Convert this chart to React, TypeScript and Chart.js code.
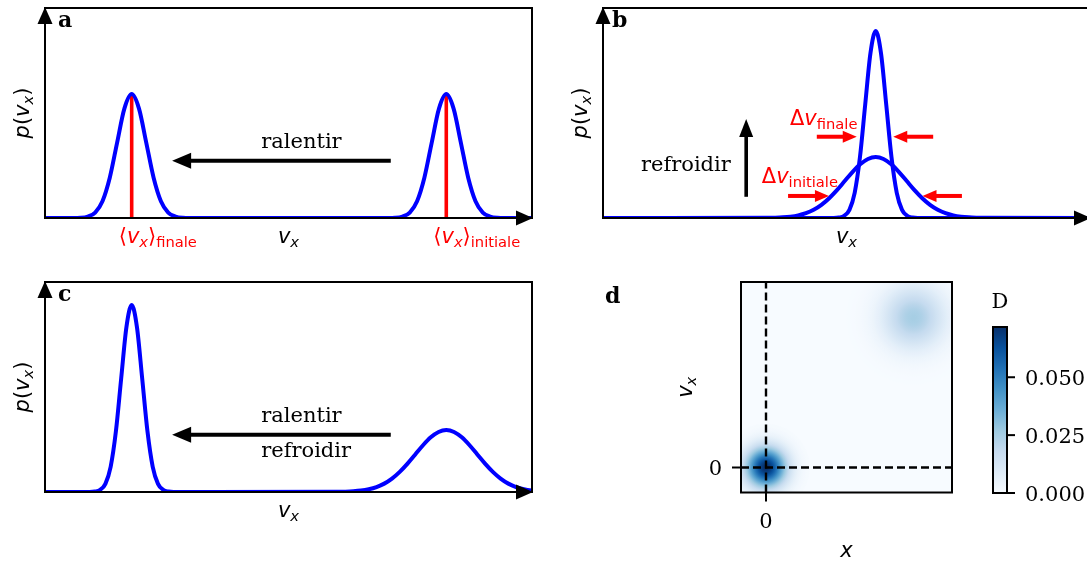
import React, { useEffect, useRef } from 'react';
import { Chart, registerables } from 'chart.js';
Chart.register(...registerables);

// ---------------- data ----------------
// panel a : two equal gaussians + red mean markers
const A_CURVE_X = [0, 5.8, 7.3, 8.8, 10.3, 11.8, 13.3, 14.8, 16.3, 17.8, 19.3, 20.8, 22.3, 23.8, 25.3, 26.8, 28.3, 29.8,
  70.4, 71.9, 73.4, 74.9, 76.4, 77.9, 79.4, 80.9, 82.4, 83.9, 85.4, 86.9, 88.4, 89.9, 91.4, 92.9, 94.4, 100];
const A_CURVE_Y = [0, 0, 0.001, 0.007, 0.026, 0.080, 0.192, 0.358, 0.521, 0.59, 0.521, 0.358, 0.192, 0.080, 0.026, 0.007, 0.001, 0,
  0, 0.001, 0.007, 0.026, 0.080, 0.192, 0.358, 0.521, 0.59, 0.521, 0.358, 0.192, 0.080, 0.026, 0.007, 0.001, 0, 0];
const A_MEANS = [17.8, 82.4];
const A_MEAN_HEIGHT = 0.59;
const A_MEAN_LABELS = ['finale', 'initiale'];
const A_TEXT = [44.4, 0.333];
const A_ARROW = [71.0, 26.1, 0.273];

// panel b : narrow and wide gaussian at the same centre
const B_NARROW_X = [0, 47.36, 48.44, 49.52, 50.6, 51.68, 52.76, 53.84, 54.92, 56, 57.08, 58.16, 59.24, 60.32, 61.4, 62.48, 63.56, 64.64, 100];
const B_NARROW_Y = [0, 0, 0.002, 0.010, 0.039, 0.120, 0.289, 0.540, 0.785, 0.89, 0.785, 0.540, 0.289, 0.120, 0.039, 0.010, 0.002, 0, 0];
const B_WIDE_X = [0, 33.70, 35.30, 36.89, 38.48, 40.07, 41.67, 43.26, 44.85, 46.44, 48.04, 49.63, 51.22, 52.81, 54.41, 56,
  57.59, 59.19, 60.78, 62.37, 63.96, 65.56, 67.15, 68.74, 70.33, 71.93, 73.52, 75.11, 76.70, 78.30, 100];
const B_WIDE_Y = [0, 0.0006, 0.0015, 0.0032, 0.0066, 0.0127, 0.0231, 0.0392, 0.0627, 0.0942, 0.1328, 0.1759, 0.2189, 0.2559, 0.2811, 0.29,
  0.2811, 0.2559, 0.2189, 0.1759, 0.1328, 0.0942, 0.0627, 0.0392, 0.0231, 0.0127, 0.0066, 0.0032, 0.0015, 0.0006, 0];
const B_TEXT = [7.8, 0.224];
const B_UP_ARROW = [29.4, 0.101, 0.471];
const B_DV_LABELS = ['finale', 'initiale'];
const B_DV_POS = [[38.4, 0.443], [32.6, 0.167]];
const B_RED_ARROWS = [[43.9, 52.1, 0.387], [67.8, 59.6, 0.387], [38.0, 46.4, 0.105], [73.7, 65.6, 0.105]];

// panel c : narrow cold peak + wide hot peak
const C_CURVE_X = [0, 9.16, 10.24, 11.32, 12.4, 13.48, 14.56, 15.64, 16.72, 17.8, 18.88, 19.96, 21.04, 22.12, 23.2, 24.28, 25.36, 26.44,
  60.10, 61.70, 63.29, 64.88, 66.47, 68.07, 69.66, 71.25, 72.84, 74.44, 76.03, 77.62, 79.21, 80.81, 82.4,
  83.99, 85.59, 87.18, 88.77, 90.36, 91.96, 93.55, 95.14, 96.73, 98.33, 99.92, 101.51];
const C_CURVE_Y = [0, 0, 0.002, 0.010, 0.039, 0.120, 0.289, 0.540, 0.785, 0.89, 0.785, 0.540, 0.289, 0.120, 0.039, 0.010, 0.002, 0,
  0.0006, 0.0015, 0.0033, 0.0067, 0.0130, 0.0235, 0.0399, 0.0638, 0.0958, 0.1351, 0.1789, 0.2227, 0.2603, 0.2859, 0.295,
  0.2859, 0.2603, 0.2227, 0.1789, 0.1351, 0.0958, 0.0638, 0.0399, 0.0235, 0.0130, 0.0067, 0.0033];
const C_TEXTS = ['ralentir', 'refroidir'];
const C_TEXT_POS = [[44.4, 0.333], [44.4, 0.167]];
const C_ARROW = [71.0, 26.1, 0.273];

// panel d : phase-space density
const BLOB_X = [0, 5.9];
const BLOB_Y = [0, 6.0];
const BLOB_PEAK = [0.072, 0.025];
const BLOB_SIGMA = [0.55, 0.85];
const D_TICKS = [0];
const D_TICK_LABELS = ['0'];
const CB_MAX = 0.0717;
const CB_TICKS = [0, 0.025, 0.05];
const CB_TICK_LABELS = ['0.000', '0.025', '0.050'];

// ---------------- styling helpers ----------------
const BLUES = ['#f7fbff', '#deebf7', '#c6dbef', '#9ecae1', '#6baed6', '#4292c6', '#2171b5', '#08519c', '#08306b'];
function hex(c: string) { return [1, 3, 5].map(i => parseInt(c.slice(i, i + 2), 16)); }
function blues(t: number) {
  t = Math.max(0, Math.min(1, t));
  const p = t * 8; const i = Math.min(7, Math.floor(p)); const f = p - i;
  const a = hex(BLUES[i]), b = hex(BLUES[i + 1]);
  const c = a.map((v, k) => Math.round(v + (b[k] - v) * f));
  return `rgb(${c[0]},${c[1]},${c[2]})`;
}

const M = 21, S = 14.7, SUB = 4;
const it = (s: number) => `italic ${s}px "DejaVu Sans"`;
const rm = (s: number) => `${s}px "DejaVu Sans"`;
const SERIF = '21px "DejaVu Serif"';
const BOLD = 'bold 22px "DejaVu Serif"';
const BLUE = '#0000ff', RED = '#ff0000', BLACK = '#000000';
const SPINE = 2;
const CURVE_W = 4;

type Run = { t: string; f: string; dy?: number };
const runsV = (): Run[] => [{ t: 'v', f: it(M) }, { t: 'x', f: it(S), dy: SUB }];
const runsP = (): Run[] => [{ t: 'p', f: it(M) }, { t: '(', f: rm(M) }, ...runsV(), { t: ')', f: rm(M) }];
const runsMean = (s: string): Run[] => [{ t: '\u27E8', f: rm(M) }, ...runsV(), { t: '\u27E9', f: rm(M) }, { t: s, f: rm(S), dy: SUB }];
const runsDelta = (s: string): Run[] => [{ t: '\u0394', f: rm(M) }, { t: 'v', f: it(M) }, { t: s, f: rm(S), dy: SUB }];

function drawRuns(ctx: CanvasRenderingContext2D, runs: Run[], x: number, y: number, align: string, color: string, rot = 0) {
  ctx.save();
  ctx.translate(x, y);
  if (rot) ctx.rotate(rot);
  let w = 0;
  for (const r of runs) { ctx.font = r.f; w += ctx.measureText(r.t).width; }
  let cx = align === 'center' ? -w / 2 : align === 'right' ? -w : 0;
  ctx.fillStyle = color; ctx.textBaseline = 'alphabetic'; ctx.textAlign = 'left';
  for (const r of runs) { ctx.font = r.f; ctx.fillText(r.t, cx, r.dy || 0); cx += ctx.measureText(r.t).width; }
  ctx.restore();
}
function text(ctx: CanvasRenderingContext2D, s: string, x: number, y: number, font: string, align: CanvasTextAlign = 'left', color = BLACK) {
  ctx.save(); ctx.font = font; ctx.fillStyle = color; ctx.textAlign = align; ctx.textBaseline = 'alphabetic';
  ctx.fillText(s, x, y); ctx.restore();
}
function tri(ctx: CanvasRenderingContext2D, x: number, y: number, ux: number, uy: number, hl = 17, hw = 7.5) {
  const bx = x - ux * hl, by = y - uy * hl;
  ctx.beginPath(); ctx.moveTo(x, y); ctx.lineTo(bx - uy * hw, by + ux * hw); ctx.lineTo(bx + uy * hw, by - ux * hw);
  ctx.closePath(); ctx.fill();
}
function arrow(ctx: CanvasRenderingContext2D, x0: number, y0: number, x1: number, y1: number, color: string, lw: number, hl: number, hw: number) {
  const dx = x1 - x0, dy = y1 - y0, L = Math.hypot(dx, dy), ux = dx / L, uy = dy / L;
  ctx.save(); ctx.strokeStyle = color; ctx.fillStyle = color; ctx.lineWidth = lw;
  ctx.beginPath(); ctx.moveTo(x0, y0); ctx.lineTo(x1 - ux * (hl - 1), y1 - uy * (hl - 1)); ctx.stroke();
  tri(ctx, x1, y1, ux, uy, hl, hw);
  ctx.restore();
}
function frame(ctx: CanvasRenderingContext2D, a: any, arrows = true) {
  ctx.save(); ctx.strokeStyle = BLACK; ctx.fillStyle = BLACK; ctx.lineWidth = SPINE;
  ctx.strokeRect(a.left, a.top, a.right - a.left, a.bottom - a.top);
  if (arrows) { tri(ctx, a.right + 1, a.bottom, 1, 0); tri(ctx, a.left, a.top - 1, 0, -1); }
  ctx.restore();
}

function lineDs(xs: number[], ys: number[], color: string, width: number, extra: any = {}) {
  return {
    data: xs.map((x, i) => ({ x, y: ys[i] })), borderColor: color, borderWidth: width, pointRadius: 0,
    fill: false, cubicInterpolationMode: 'monotone', ...extra,
  };
}

function makeChart(canvas: HTMLCanvasElement, pad: any, xr: number[], yr: number[], datasets: any[], after: (c: any) => void, before?: (c: any) => void) {
  return new Chart(canvas, {
    type: 'line',
    data: { datasets },
    options: {
      animation: false, responsive: false, events: [],
      layout: { padding: pad, autoPadding: false },
      scales: {
        x: { type: 'linear', min: xr[0], max: xr[1], display: false },
        y: { type: 'linear', min: yr[0], max: yr[1], display: false },
      },
      plugins: { legend: { display: false }, tooltip: { enabled: false } },
    } as any,
    plugins: [{ id: 'deco', afterDatasetsDraw: (c: any) => after(c), beforeDatasetsDraw: (c: any) => { if (before) before(c); } }],
  } as any);
}

const CW = 1100, CH = 563;

function panelA(cv: HTMLCanvasElement) {
  const ds = [
    lineDs(A_CURVE_X, A_CURVE_Y, BLUE, CURVE_W),
    ...A_MEANS.map(m => lineDs([m, m], [0, A_MEAN_HEIGHT], RED, 3.6, { cubicInterpolationMode: 'default', tension: 0 })),
  ];
  return makeChart(cv, { left: 45, top: 8, right: CW - 532, bottom: CH - 218 }, [0, 100], [0, 1], ds, (c) => {
    const ctx = c.ctx, a = c.chartArea, X = (v: number) => c.scales.x.getPixelForValue(v), Y = (v: number) => c.scales.y.getPixelForValue(v);
    frame(ctx, a);
    A_MEANS.forEach((m, i) => drawRuns(ctx, runsMean(A_MEAN_LABELS[i]), X(m) - 13, a.bottom + 25, 'left', RED));
    drawRuns(ctx, runsV(), (a.left + a.right) / 2, a.bottom + 25, 'center', BLACK);
    drawRuns(ctx, runsP(), a.left - 16, (a.top + a.bottom) / 2, 'center', BLACK, -Math.PI / 2);
    text(ctx, 'a', a.left + 13, a.top + 19, BOLD);
    text(ctx, 'ralentir', X(A_TEXT[0]), Y(A_TEXT[1]), SERIF);
    arrow(ctx, X(A_ARROW[0]), Y(A_ARROW[2]), X(A_ARROW[1]), Y(A_ARROW[2]), BLACK, 4, 19, 8);
  });
}

function panelB(cv: HTMLCanvasElement) {
  const ds = [lineDs(B_NARROW_X, B_NARROW_Y, BLUE, CURVE_W), lineDs(B_WIDE_X, B_WIDE_Y, BLUE, CURVE_W)];
  return makeChart(cv, { left: 603, top: 8, right: CW - 1090, bottom: CH - 218 }, [0, 100], [0, 1], ds, (c) => {
    const ctx = c.ctx, a = c.chartArea, X = (v: number) => c.scales.x.getPixelForValue(v), Y = (v: number) => c.scales.y.getPixelForValue(v);
    frame(ctx, a);
    drawRuns(ctx, runsV(), (a.left + a.right) / 2, a.bottom + 25, 'center', BLACK);
    drawRuns(ctx, runsP(), a.left - 16, (a.top + a.bottom) / 2, 'center', BLACK, -Math.PI / 2);
    text(ctx, 'b', a.left + 9, a.top + 19, BOLD);
    text(ctx, 'refroidir', X(B_TEXT[0]), Y(B_TEXT[1]), SERIF);
    arrow(ctx, X(B_UP_ARROW[0]), Y(B_UP_ARROW[1]), X(B_UP_ARROW[0]), Y(B_UP_ARROW[2]), BLACK, 3.6, 18, 7);
    B_DV_LABELS.forEach((l, i) => drawRuns(ctx, runsDelta(l), X(B_DV_POS[i][0]), Y(B_DV_POS[i][1]), 'left', RED));
    B_RED_ARROWS.forEach(r => arrow(ctx, X(r[0]), Y(r[2]), X(r[1]), Y(r[2]), RED, 4, 14, 6));
  });
}

function panelC(cv: HTMLCanvasElement) {
  const ds = [lineDs(C_CURVE_X, C_CURVE_Y, BLUE, CURVE_W)];
  return makeChart(cv, { left: 45, top: 282, right: CW - 532, bottom: CH - 492 }, [0, 100], [0, 1], ds, (c) => {
    const ctx = c.ctx, a = c.chartArea, X = (v: number) => c.scales.x.getPixelForValue(v), Y = (v: number) => c.scales.y.getPixelForValue(v);
    frame(ctx, a);
    drawRuns(ctx, runsV(), (a.left + a.right) / 2, a.bottom + 25, 'center', BLACK);
    drawRuns(ctx, runsP(), a.left - 16, (a.top + a.bottom) / 2, 'center', BLACK, -Math.PI / 2);
    text(ctx, 'c', a.left + 13, a.top + 19, BOLD);
    C_TEXTS.forEach((t, i) => text(ctx, t, X(C_TEXT_POS[i][0]), Y(C_TEXT_POS[i][1]), SERIF));
    arrow(ctx, X(C_ARROW[0]), Y(C_ARROW[2]), X(C_ARROW[1]), Y(C_ARROW[2]), BLACK, 4, 19, 8);
  });
}

function panelD(cv: HTMLCanvasElement) {
  const pxPerUnit = (ch: any) => Math.abs(ch.scales.x.getPixelForValue(1) - ch.scales.x.getPixelForValue(0));
  const blobs = {
    data: BLOB_X.map((x, i) => ({ x, y: BLOB_Y[i] })),
    showLine: false, clip: 0, pointBorderWidth: 0, pointHoverRadius: 0,
    pointRadius: (ctx: any) => {
      const r = 3.2 * BLOB_SIGMA[ctx.dataIndex] * pxPerUnit(ctx.chart);
      return Number.isFinite(r) ? r : 0;
    },
    pointBackgroundColor: (ctx: any) => {
      const ch = ctx.chart, i = ctx.dataIndex;
      const cx = ch.scales.x.getPixelForValue(BLOB_X[i]), cy = ch.scales.y.getPixelForValue(BLOB_Y[i]);
      const R = 3.2 * BLOB_SIGMA[i] * pxPerUnit(ch);
      if (!Number.isFinite(cx) || !Number.isFinite(cy) || !(R > 0)) return BLUES[0];
      const g = ch.ctx.createRadialGradient(cx, cy, 0, cx, cy, R);
      const N = 32;
      for (let k = 0; k <= N; k++) {
        const t = k / N, d = t * 3.2;
        g.addColorStop(t, blues(BLOB_PEAK[i] * Math.exp(-d * d / 2) / CB_MAX));
      }
      return g;
    },
  };
  const ds = [
    lineDs([0, 0], [-1, 7.42], BLACK, 2.4, { borderDash: [8, 4], cubicInterpolationMode: 'default', tension: 0 }),
    lineDs([-1, 7.44], [0, 0], BLACK, 2.4, { borderDash: [8, 4], cubicInterpolationMode: 'default', tension: 0 }),
    blobs,
  ];
  return makeChart(cv, { left: 741, top: 282, right: CW - 952, bottom: CH - 492.5 }, [-1, 7.44], [-1, 7.42], ds, (c) => {
    const ctx = c.ctx, a = c.chartArea, X = (v: number) => c.scales.x.getPixelForValue(v), Y = (v: number) => c.scales.y.getPixelForValue(v);
    frame(ctx, a, false);
    ctx.save(); ctx.strokeStyle = BLACK; ctx.lineWidth = SPINE;
    D_TICKS.forEach((t, i) => {
      ctx.beginPath(); ctx.moveTo(X(t), a.bottom); ctx.lineTo(X(t), a.bottom + 9); ctx.stroke();
      ctx.beginPath(); ctx.moveTo(a.left, Y(t)); ctx.lineTo(a.left - 9, Y(t)); ctx.stroke();
      text(ctx, D_TICK_LABELS[i], X(t), a.bottom + 35, SERIF, 'center');
      text(ctx, D_TICK_LABELS[i], a.left - 19, Y(t) + 7.6, SERIF, 'right');
    });
    ctx.restore();
    text(ctx, 'x', (a.left + a.right) / 2, a.bottom + 64.5, it(M), 'center');
    drawRuns(ctx, runsV(), a.left - 49, (a.top + a.bottom) / 2, 'center', BLACK, -Math.PI / 2);
    text(ctx, 'd', a.left - 136, a.top + 21, BOLD);
  }, (c) => {
    const a = c.chartArea; c.ctx.save(); c.ctx.fillStyle = BLUES[0];
    c.ctx.fillRect(a.left, a.top, a.right - a.left, a.bottom - a.top); c.ctx.restore();
  });
}

function colorbar(cv: HTMLCanvasElement) {
  return new Chart(cv, {
    type: 'bar',
    data: {
      labels: ['D'],
      datasets: [{
        data: [CB_MAX], borderWidth: 0, barPercentage: 1, categoryPercentage: 1,
        backgroundColor: (ctx: any) => {
          const a = ctx.chart.chartArea; if (!a) return BLUES[0];
          const g = ctx.chart.ctx.createLinearGradient(0, a.bottom, 0, a.top);
          BLUES.forEach((col, i) => g.addColorStop(i / 8, col));
          return g;
        },
      }],
    },
    options: {
      animation: false, responsive: false, events: [],
      layout: { padding: { left: 993, top: 327, right: CW - 1007, bottom: CH - 493 }, autoPadding: false },
      scales: { x: { type: 'category', display: false }, y: { type: 'linear', min: 0, max: CB_MAX, display: false } },
      plugins: { legend: { display: false }, tooltip: { enabled: false } },
    } as any,
    plugins: [{
      id: 'cb', afterDatasetsDraw: (c: any) => {
        const ctx = c.ctx, a = c.chartArea, Y = (v: number) => c.scales.y.getPixelForValue(v);
        ctx.save(); ctx.strokeStyle = BLACK; ctx.lineWidth = SPINE;
        ctx.strokeRect(a.left, a.top, a.right - a.left, a.bottom - a.top);
        CB_TICKS.forEach((t, i) => {
          const y = Y(t);
          ctx.beginPath(); ctx.moveTo(a.right, y); ctx.lineTo(a.right + 8, y); ctx.stroke();
          text(ctx, CB_TICK_LABELS[i], a.right + 18, y + 7.6, SERIF);
        });
        ctx.restore();
        text(ctx, 'D', (a.left + a.right) / 2, a.top - 19, SERIF, 'center');
      },
    }],
  } as any);
}

export default function App() {
  const r0 = useRef<HTMLCanvasElement>(null), r1 = useRef<HTMLCanvasElement>(null), r2 = useRef<HTMLCanvasElement>(null),
    r3 = useRef<HTMLCanvasElement>(null), r4 = useRef<HTMLCanvasElement>(null);
  const refs = [r0, r1, r2, r3, r4];
  useEffect(() => {
    const makers = [panelA, panelB, panelC, panelD, colorbar];
    const charts = makers.map((mk, i) => mk(refs[i].current as HTMLCanvasElement));
    return () => charts.forEach(ch => ch.destroy());
  }, []);
  return (
    <div style={{ position: 'absolute', left: 0, top: 0, width: 1087, height: 563, overflow: 'hidden', background: '#ffffff' }}>
      {refs.map((r, i) => (
        <canvas key={i} ref={r} width={CW} height={CH} style={{ position: 'absolute', left: 0, top: 0 }} />
      ))}
    </div>
  );
}
